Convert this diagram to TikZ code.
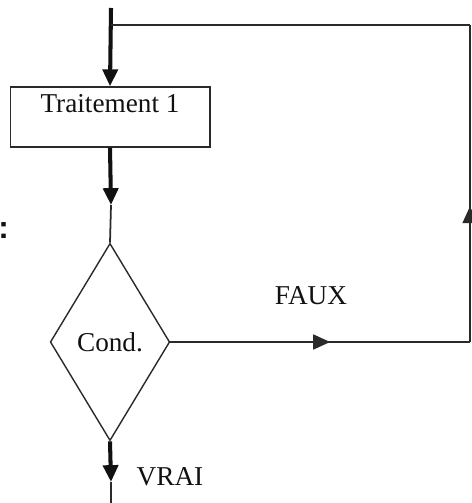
\documentclass[tikz,border=0pt]{standalone}
\usepackage{fontspec}
\setmainfont{Liberation Serif}
\newfontfamily\colonfont{Liberation Sans}
\usepackage{xcolor}
\usetikzlibrary{arrows.meta,positioning,calc,shapes.geometric,decorations.markings}
\definecolor{ink}{HTML}{111111}
\definecolor{edge}{HTML}{2A2A2A}
\tikzset{
  flow/.style={draw=edge,line width=1pt},
  flowthick/.style={draw=ink,line width=2.3pt},
  tip/.style={-{Triangle[length=9.6pt,width=8.5pt]}},
  midtip/.style={postaction={decorate},decoration={markings,
      mark=at position #1 with {\arrow{Triangle[length=9.6pt,width=8.5pt]}}}},
  procbox/.style={draw=edge,line width=1pt,minimum width=113.4pt,
      inner xsep=2pt,inner ysep=3pt,text height=11.7pt,text depth=16.3pt},
  testbox/.style={diamond,draw=edge,line width=0.8pt,inner sep=0pt,
      minimum width=68pt,minimum height=112.3pt}
}
\begin{document}
\begin{tikzpicture}[x=0.02cm,y=-0.02cm,font=\fontsize{15.5}{18}\selectfont,text=ink]
\useasboundingbox (0,0) rectangle (471,503);
% --- blocks ----------------------------------------------------------
\node (trait) [procbox] at (110,117) {Traitement 1};
\node (cond) [testbox] at (110,342) {Cond.};
\node (colon) [anchor=west,inner sep=0pt,font=\colonfont\bfseries\fontsize{18}{20}\selectfont] at (-2,231) {:};
% --- points on the loop ----------------------------------------------
\coordinate (entry) at (111,8);
\coordinate (join) at (111,25);
\coordinate (m1) at (111,205);
\coordinate (m2) at (111,482);
\coordinate (exit) at (111,503);
\coordinate (loopb) at (470,342);
\coordinate (loopt) at (470,25);
% --- connectors ------------------------------------------------------
\draw[flowthick,tip] (entry) -- (trait.north);
\draw[flowthick,tip] (trait.south) -- (m1);
\draw[flow] (m1) -- (cond.north);
\draw[flowthick,tip] (cond.south) -- (m2);
\draw[flow] (m2) -- (exit);
\draw[flow,midtip=0.533] (cond.east) -- (loopb);
\draw[flow,midtip=0.428] (loopb) -- (loopt);
\draw[flow] (loopt) -- (join);
% --- branch labels ---------------------------------------------------
\node (faux) at (311,296) {FAUX};
\node (vrai) at (170,477) {VRAI};
\end{tikzpicture}
\end{document}
